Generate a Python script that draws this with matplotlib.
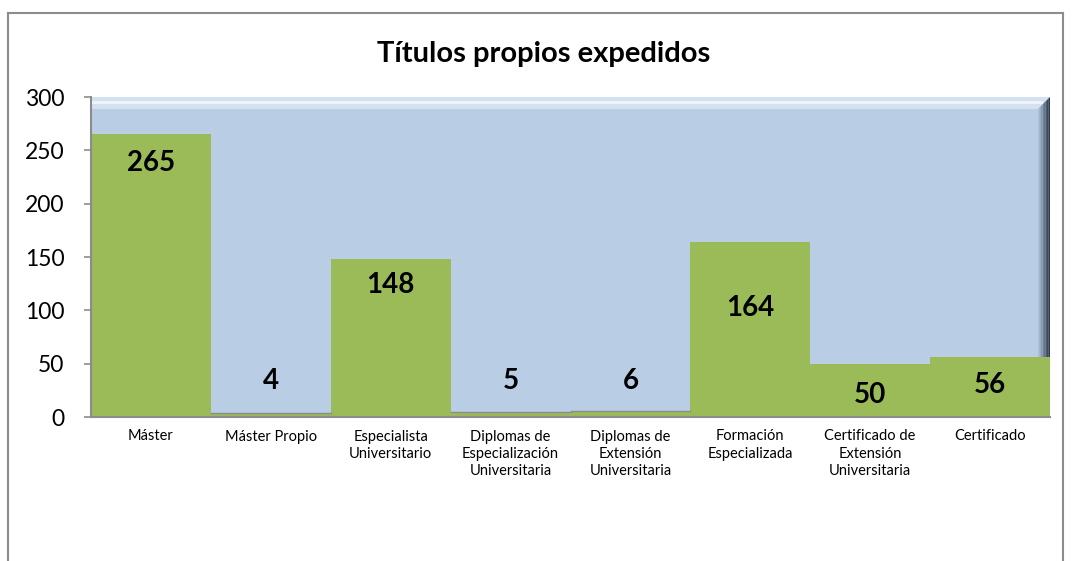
import matplotlib
matplotlib.use("Agg")
import matplotlib.pyplot as plt
import numpy as np
from matplotlib.patches import Rectangle, Polygon
from matplotlib.lines import Line2D

categories = ["Máster", "Máster Propio", "Especialista\nUniversitario",
              "Diplomas de\nEspecialización\nUniversitaria",
              "Diplomas de\nExtensión\nUniversitaria",
              "Formación\nEspecializada",
              "Certificado de\nExtensión\nUniversitaria",
              "Certificado"]
values = [265, 4, 148, 5, 6, 164, 50, 56]
yticks = [0, 50, 100, 150, 200, 250, 300]
title = "Títulos propios expedidos"

# label vertical anchor positions (layout)
label_y = [238, 34, 124, 34, 34, 102, 21, 30]

plt.rcParams['font.family'] = ['Lato', 'DejaVu Sans']

fig = plt.figure(figsize=(10.74, 5.61), dpi=100)
W, H = 1074, 561

# outer chart border
for xs, ys in [([8, 8], [561, 13]), ([8, 1063], [13, 13]), ([1063, 1063], [13, 561])]:
    fig.add_artist(Line2D([v / W for v in xs], [1 - v / H for v in ys],
                          transform=fig.transFigure, color="#8c8c8c", lw=1.5))

left, right = 91/W, 1050/W
bottom, top = 1 - 417/H, 1 - 97/H
ax = fig.add_axes([left, bottom, right - left, top - bottom])
ax.set_xlim(-0.5, len(values) - 0.5)
ax.set_ylim(0, 300)
ax.set_facecolor("#b9cde5")

# bevel effect on plot area (axes fraction coordinates)
pw, ph = 959.0, 320.0
bt = 12 / ph   # bevel thickness (vertical)
br = 12 / pw   # bevel thickness (horizontal)
ax.add_patch(Polygon([(0, 1), (1, 1), (1 - br, 1 - bt), (0, 1 - bt)], closed=True,
                     transform=ax.transAxes, color="#d3e1f1", zorder=0.5, lw=0))
ax.add_patch(Rectangle((0, 1 - bt * 0.62), 1 - br * 0.62, 3 / ph, transform=ax.transAxes,
                       color="#edf3fa", zorder=0.6, lw=0))
shades = ["#aebfd4", "#9aacc2", "#8799af", "#73859b", "#607188", "#4d5d72", "#3c4a5c", "#2f3b4a"]
n = len(shades)
for i, c in enumerate(shades):
    x0 = 1 - br + i * br / n
    ax.add_patch(Polygon([(x0, 0), (x0 + br / n, 0), (x0 + br / n, 1 - bt * (n - i - 1) / n),
                          (x0, 1 - bt * (n - i) / n)], closed=True,
                         transform=ax.transAxes, color=c, zorder=0.7, lw=0))

x = np.arange(len(values))
ax.bar(x, values, width=1.0, color="#9bbb59", zorder=2, edgecolor="none")
for xi, v in zip(x, values):
    if v < 10:
        ax.plot([xi - 0.5, xi + 0.5], [v, v], color="#8c8c8c", lw=1, zorder=2.5)

for xi, v, ly in zip(x, values, label_y):
    ax.text(xi, ly, str(v), ha="center", va="center", fontsize=20, fontweight="bold", zorder=3)

ax.set_yticks(yticks)
ax.set_yticklabels([str(t) for t in yticks], fontsize=16.5)
ax.set_xticks(x)
ax.set_xticklabels(categories, fontsize=10.5, linespacing=1.3)
ax.tick_params(axis="x", length=0, pad=9)
ax.tick_params(axis="y", length=5, width=1.2, color="#8c8c8c", pad=14)
for s in ["top", "right"]:
    ax.spines[s].set_visible(False)
ax.spines["left"].set_color("#8c8c8c")
ax.spines["left"].set_linewidth(1.5)
ax.spines["bottom"].set_color("#8c8c8c")
ax.spines["bottom"].set_linewidth(1.5)

fig.text(544/W, 1 - 54/H, title, ha="center", va="center", fontsize=21, fontweight="bold")

fig.savefig("out.png", dpi=100)
